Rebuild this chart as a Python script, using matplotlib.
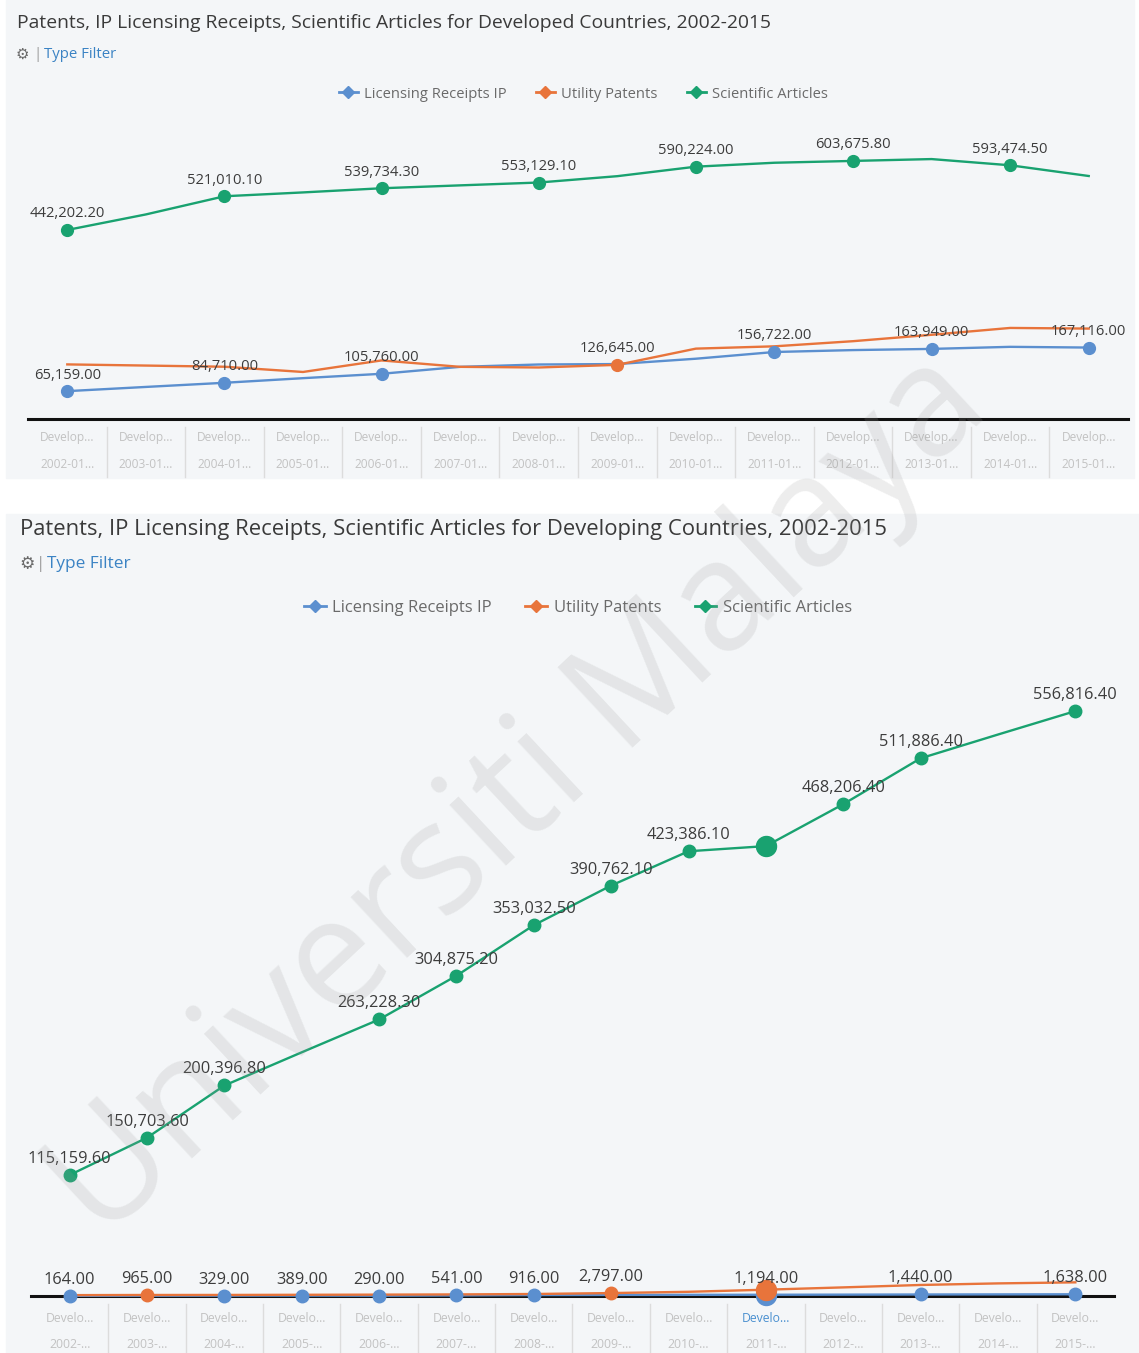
import matplotlib
matplotlib.use("Agg")
from matplotlib import pyplot as plt
from matplotlib.lines import Line2D
from matplotlib.patches import Rectangle
import numpy as np

plt.rcParams['font.family'] = ['Open Sans', 'DejaVu Sans']

W, H = 1139, 1353

years = list(range(2002, 2016))

# developed countries
dev_licensing = [65159.0, 75000, 84710.0, 95500, 105760.0, 122000, 127500,
                 128500, 141000, 156722.0, 161200, 163949.0, 168800, 167116.0]
dev_patents = [127700, 125000, 122250, 110000, 137000, 122000, 120500,
               126645.0, 164600, 170000, 182000, 197000, 213000, 211500]
dev_articles = [442202.2, 478500, 521010.1, 530000, 539734.3, 546500, 553129.1,
                568000, 590224.0, 599400, 603675.8, 608000, 593474.5, 568400]

# developing countries
dvg_licensing = [164.0, 240, 329.0, 389.0, 290.0, 541.0, 916.0,
                 1050, 1120, 1194.0, 1300, 1440.0, 1540, 1638.0]
dvg_patents = [820, 965.0, 1000, 1150, 1300, 1500, 1900,
               2797.0, 4000, 6000, 8200, 10500, 12000, 13000]
dvg_articles = [115159.6, 150703.6, 200396.8, 232000, 263228.3, 304875.2, 353032.5,
                390762.1, 423386.1, 428300, 468206.4, 511886.4, 534500, 556816.4]

# which points carry a value label
dev_lab = {"lic": [0, 2, 4, 9, 11, 13], "pat": [7], "art": [0, 2, 4, 6, 8, 10, 12]}
dvg_lab = {"lic": [0, 2, 3, 4, 5, 6, 9, 11, 13], "pat": [1, 7],
           "art": [0, 1, 2, 4, 5, 6, 7, 8, 10, 11, 13]}
selected = 9  # 2011 highlighted in the developing chart

series_names = ["Licensing Receipts IP", "Utility Patents", "Scientific Articles"]
BLUE, ORANGE, GREEN = "#5b8fcf", "#e8743b", "#19a270"
colors = [BLUE, ORANGE, GREEN]

fig = plt.figure(figsize=(W / 100, H / 100), dpi=100, facecolor="white")


def px_axes(left, top, right, bottom, **kw):
    return fig.add_axes([left / W, 1 - bottom / H, (right - left) / W, (bottom - top) / H], **kw)


bg = px_axes(0, 0, W, H)
bg.set_xlim(0, W)
bg.set_ylim(H, 0)
bg.axis("off")
bg.add_patch(Rectangle((6, 0), 1128, 478, color="#f4f6f8", zorder=0))
bg.add_patch(Rectangle((6, 514), 1133, 839, color="#f4f6f8", zorder=0))


def header(y_title, y_filter, x0, title, tsize, fsize):
    bg.text(x0, y_title, title, fontsize=tsize, color="#3a3a3a", va="center", ha="left")
    bg.text(x0 - 1, y_filter, "\u2699", fontsize=fsize, color="#6a6a6a", va="center",
            ha="left", family="DejaVu Sans", weight="bold")
    bg.text(x0 + 16, y_filter, "|", fontsize=fsize, color="#9a9a9a", va="center", ha="left")
    bg.text(x0 + 27, y_filter, "Type Filter", fontsize=fsize, color="#3b83c4",
            va="center", ha="left")


header(23, 54, 17, "Patents, IP Licensing Receipts, Scientific Articles for Developed Countries, 2002-2015",
       13.9, 10.8)
header(530, 564, 20, "Patents, IP Licensing Receipts, Scientific Articles for Developing Countries, 2002-2015",
       15.8, 12.4)

handles = [Line2D([], [], color=c, lw=2, marker="D", ms=6) for c in colors]
fig.legend(handles, series_names, loc="center", bbox_to_anchor=(583 / W, 1 - 94 / H),
           ncol=3, frameon=False, fontsize=10.6, handlelength=1.3, handletextpad=0.4,
           columnspacing=2.0, labelcolor="#6a6a6a")
fig.legend(handles, series_names, loc="center", bbox_to_anchor=(578 / W, 1 - 608 / H),
           ncol=3, frameon=False, fontsize=12, handlelength=1.3, handletextpad=0.4,
           columnspacing=2.0, labelcolor="#6a6a6a")


def draw_chart(ax, data, labelled, ymax, lsize, tsize, ms, rows, tick_rows, sep, sel=None):
    x = np.arange(len(years))
    for vals, col, key in zip(data, colors, ["lic", "pat", "art"]):
        vals = np.array(vals, dtype=float)
        ax.plot(x, vals, color=col, lw=1.7, zorder=3, clip_on=False)
        idx = labelled[key]
        ax.plot(x[idx], vals[idx], "o", color=col, ms=ms, zorder=4, clip_on=False)
        if sel is not None:
            ax.plot(x[sel], vals[sel], "o", color=col, ms=ms * 1.6, zorder=4, clip_on=False)
        for i in idx:
            ax.annotate(f"{vals[i]:,.2f}", (x[i], vals[i]), xytext=(0, 16),
                        textcoords="offset pixels", ha="center", va="center",
                        fontsize=lsize, color="#3c3c3c", zorder=5)
    ax.set_xlim(-0.5, len(years) - 0.5)
    ax.set_ylim(0, ymax)
    for s in ["top", "left", "right"]:
        ax.spines[s].set_visible(False)
    ax.spines["bottom"].set_color("#111111")
    ax.spines["bottom"].set_linewidth(2.2)
    ax.set_xticks([])
    ax.set_yticks([])
    ax.patch.set_alpha(0)
    # category cells under the axis
    for i, yr in enumerate(years):
        for j, (txt, dy) in enumerate(zip(rows(yr), tick_rows)):
            c = "#4a90d0" if (i == sel and j == 0) else "#c2c2c2"
            ax.annotate(txt, (i, 0), xycoords=("data", "axes fraction"), xytext=(0, -dy),
                        textcoords="offset pixels", ha="center", va="center",
                        fontsize=tsize, color=c, annotation_clip=False)
        if i < len(years) - 1:
            ax.plot([i + 0.5, i + 0.5], [-8 / sep[1], -sep[0] / sep[1]],
                    transform=ax.get_xaxis_transform(), color="#dcdcdc", lw=1, clip_on=False)


ax1 = px_axes(28, 130, 1128, 419)
draw_chart(ax1, [dev_licensing, dev_patents, dev_articles], dev_lab, 676000, 10.6, 8.6, 8.5,
           lambda y: ["Develop...", f"{y}-01..."], (18, 46), (58, 289))

ax2 = px_axes(31, 640, 1114, 1296)
draw_chart(ax2, [dvg_licensing, dvg_patents, dvg_articles], dvg_lab, 624500, 11.8, 8.8, 9,
           lambda y: ["Develo...", f"{y}-..."], (22, 49), (57, 656), sel=selected)

fig.text(520 / W, 1 - 798 / H, "Universiti Malaya", rotation=43, fontsize=110,
         color="#9a9a9a", alpha=0.18, ha="center", va="center", rotation_mode="anchor",
         zorder=10)

fig.savefig("out.png", dpi=100, facecolor=fig.get_facecolor())
